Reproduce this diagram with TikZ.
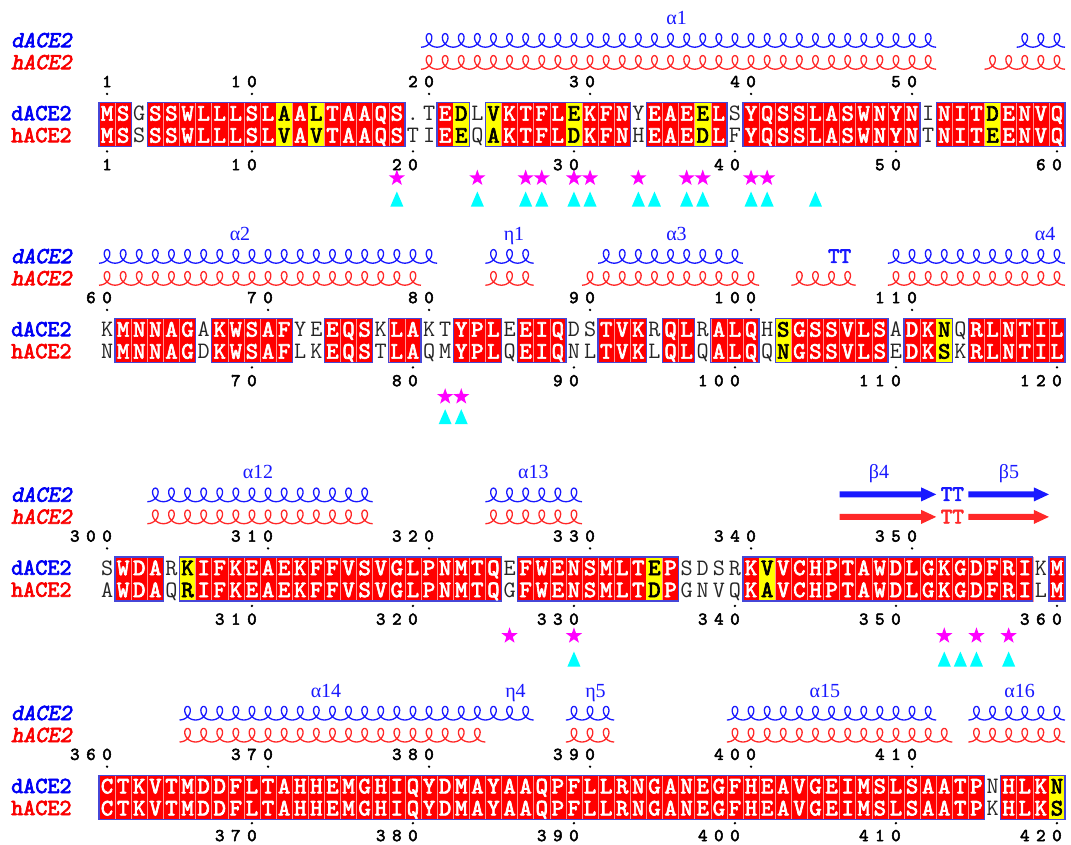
\documentclass[tikz,border=0pt]{standalone}
\usepackage{fontspec}
\setmainfont{Liberation Serif}
\newfontfamily\resbold[FakeBold=2.8]{lmmono10-regular.otf}
\newfontfamily\resboldsl[FakeBold=2.8,FakeSlant=0.2]{lmmono10-regular.otf}
\usetikzlibrary{shapes.geometric}

\definecolor{idred}{RGB}{255,0,0}
\definecolor{simyellow}{RGB}{255,255,0}
\definecolor{groupblue}{RGB}{70,70,215}
\definecolor{cellline}{RGB}{255,150,150}
\definecolor{dblue}{RGB}{0,0,245}
\definecolor{hred}{RGB}{250,0,0}
\definecolor{sblue}{RGB}{25,25,255}
\definecolor{sred}{RGB}{255,40,40}
\definecolor{contactmag}{RGB}{255,0,255}
\definecolor{contactcyan}{RGB}{0,255,255}

% ---- sequences and conservation classes, stored one character per column
\makeatletter
\newcount\seq@n
\def\storeseq#1#2{\global\seq@n=0 \def\seq@pfx{#1}\seq@next#2\relax}
\def\seq@next#1{\ifx#1\relax\else
  \global\advance\seq@n by 1
  \expandafter\gdef\csname\seq@pfx\the\seq@n\endcsname{#1}%
  \expandafter\seq@next\fi}
\makeatother

\storeseq{dA}{MSGSSWLLLS LAALTAAQS. TEDLVKTFLE KFNYEAEELS YQSSLASWNY NINITDENVQ}
\storeseq{hA}{MSSSSWLLLS LVAVTAAQST IEEQAKTFLD KFNHEAEDLF YQSSLASWNY NTNITEENVQ}
\storeseq{tA}{RRNRRRRRRR RYRYRRRRRN NRYNYRRRRY RRRNRRRYRN RRRRRRRRRR RNRRRYRRRR}
\storeseq{dB}{KMNNAGAKWS AFYEEQSKLA KTYPLEEIQD STVKRQLRAL QHSGSSVLSA DKNQRLNTIL}
\storeseq{hB}{NMNNAGDKWS AFLKEQSTLA QMYPLQEIQN LTVKLQLQAL QQNGSSVLSE DKSKRLNTIL}
\storeseq{tB}{NRRRRRNRRR RRNNRRRNRR NNRRRNRRRN NRRRNRRNRR RNYRRRRRRN RRYNRRRRRR}
\storeseq{dC}{SWDARKIFKE AEKFFVSVGL PNMTQEFWEN SMLTEPSDSR KVVCHPTAWD LGKGDFRIKM}
\storeseq{hC}{AWDAQRIFKE AEKFFVSVGL PNMTQGFWEN SMLTDPGNVQ KAVCHPTAWD LGKGDFRILM}
\storeseq{tC}{NRRRNYRRRR RRRRRRRRRR RRRRRNRRRR RRRRYRNNNN RYRRRRRRRR RRRRRRRRNR}
\storeseq{dD}{CTKVTMDDFL TAHHEMGHIQ YDMAYAAQPF LLRNGANEGF HEAVGEIMSL SAATPNHLKN}
\storeseq{hD}{CTKVTMDDFL TAHHEMGHIQ YDMAYAAQPF LLRNGANEGF HEAVGEIMSL SAATPKHLKS}
\storeseq{tD}{RRRRRRRRRR RRRRRRRRRR RRRRRRRRRR RRRRRRRRRR RRRRRRRRRR RRRRRNRRRY}

\newcommand\colzero{99}
\newcommand\colpitch{16.1}

\tikzset{
  resid/.style={inner sep=0pt, anchor=base, font=\ttfamily\fontsize{23.5}{23.5}\selectfont},
  residW/.style={resid, font=\resbold\fontsize{23.5}{23.5}\selectfont, text=white},
  residB/.style={resid, font=\resbold\fontsize{23.5}{23.5}\selectfont, text=black},
  residN/.style={resid, text=black!85},
  rowlabel/.style={inner sep=0pt, anchor=base west, font=\resbold\fontsize{23}{23}\selectfont},
  rowlabelit/.style={rowlabel, font=\resboldsl\fontsize{23}{23}\selectfont},
  numdigit/.style={inner sep=0pt, anchor=base, font=\resbold\fontsize{18}{18}\selectfont},
  sslab/.style={inner sep=0pt, anchor=base, text=sblue, font=\fontsize{20}{20}\selectfont},
  turnlab/.style={inner sep=0pt, anchor=base, font=\resbold\fontsize{22}{22}\selectfont},
  groupframe/.style={draw=groupblue, line width=1.3pt},
  helixline/.style={line width=1.3pt, line join=round},
  starmark/.style={star, star points=5, star point ratio=2.5, fill=contactmag, draw=none, inner sep=0pt, minimum size=17pt}
}

% residue boxes, group frames, letters and row names of one block
\newcommand\block[3]{%
  \foreach \i in {1,...,60}{
    \pgfmathsetmacro\xc{\colzero+(\i-0.5)*\colpitch}
    \if R\csname t#1\i\endcsname
      \filldraw[fill=idred, draw=cellline, line width=0.5pt] (\xc-\colpitch/2,#2) rectangle (\xc+\colpitch/2,#2+44);
    \fi
    \if Y\csname t#1\i\endcsname
      \fill[simyellow] (\xc-\colpitch/2,#2) rectangle (\xc+\colpitch/2,#2+44);
    \fi
  }
  \foreach \s/\e in {#3}{
    \draw[groupframe] ({\colzero+(\s-1)*\colpitch},#2) rectangle ({\colzero+\e*\colpitch},#2+44);
  }
  \foreach \i in {1,...,60}{
    \pgfmathsetmacro\xc{\colzero+(\i-0.5)*\colpitch}
    \if R\csname t#1\i\endcsname
      \node[residW] (d#1\i) at (\xc,#2+18.2) {\csname d#1\i\endcsname};
      \node[residW] (h#1\i) at (\xc,#2+40.2) {\csname h#1\i\endcsname};
    \else
      \if Y\csname t#1\i\endcsname
        \node[residB] (d#1\i) at (\xc,#2+18.2) {\csname d#1\i\endcsname};
        \node[residB] (h#1\i) at (\xc,#2+40.2) {\csname h#1\i\endcsname};
      \else
        \node[residN] (d#1\i) at (\xc,#2+18.2) {\csname d#1\i\endcsname};
        \node[residN] (h#1\i) at (\xc,#2+40.2) {\csname h#1\i\endcsname};
      \fi
    \fi
  }
  \node[rowlabel, text=dblue] (rowd#1) at (11,#2+17.8) {dACE2};
  \node[rowlabel, text=hred] (rowh#1) at (11,#2+39.8) {hACE2};
  \node[rowlabelit, text=dblue] (ssd#1) at (11,#2-62+6.8) {dACE2};
  \node[rowlabelit, text=hred] (ssh#1) at (11,#2-40+6.8) {hACE2};
}

% residue numbers: digits one per column, the last one over the numbered column
\newcommand\numbers[4]{%
  \foreach \c/\n in {#4}{
    \pgfmathtruncatemacro\numlen{\n<10 ? 1 : (\n<100 ? 2 : 3)}
    \pgfmathtruncatemacro\digcol{\c-\numlen+1}
    \def\digy{#2+5.4}\def\digtag{#1}
    \expandafter\digwalk\n\relax
    \fill ({\colzero+(\c-0.5)*\colpitch},#3) circle (1.3);
  }
}
\def\digwalk#1{\ifx#1\relax\else
  \node[numdigit] (\digtag-\digcol) at ({\colzero+(\digcol-0.5)*\colpitch},\digy) {#1};
  \pgfmathtruncatemacro\digcol{\digcol+1}%
  \expandafter\digwalk\fi}

% helix drawn as a coil, one turn per column
\newcommand\helix[4]{%
  \pgfmathsetmacro\hxl{\colzero+(#3-1)*\colpitch}
  \pgfmathtruncatemacro\hn{#4-#3+1}
  \pgfmathsetmacro\hst{-pi}
  \pgfmathsetmacro\hend{(2*\hn-1)*pi}
  \pgfmathtruncatemacro\hs{\hn*24+1}
  \draw[#1, helixline, domain=\hst:\hend, samples=\hs, variable=\ang]
    plot ({\hxl+\colpitch/(2*pi)*(\ang+pi)-6.3*sin(\ang r)}, {#2-6.8*cos(\ang r)});
}

% strand arrow
\newcommand\strand[4]{%
  \pgfmathsetmacro\sl{\colzero+(#3-1)*\colpitch}
  \pgfmathsetmacro\sr{\colzero+#4*\colpitch}
  \fill[#1] (\sl,#2-3) -- (\sr-15,#2-3) -- (\sr-15,#2-7) -- (\sr,#2) -- (\sr-15,#2+7) -- (\sr-15,#2+3) -- (\sl,#2+3) -- cycle;
}

% interface residues
\newcommand\stars[3]{%
  \foreach \c in {#3}{\node[starmark] (#1star\c) at ({\colzero+(\c-0.5)*\colpitch},#2) {};}
}
\newcommand\tris[2]{%
  \foreach \c in {#2}{
    \pgfmathsetmacro\tx{\colzero+(\c-0.5)*\colpitch}
    \fill[contactcyan] (\tx-6.5,#1+7.5) -- (\tx,#1-7.5) -- (\tx+6.5,#1+7.5) -- cycle;
  }
}

\begin{document}
\begin{tikzpicture}[x=1pt,y=-1pt]
\fill[white] (0,0) rectangle (1071,844);
\useasboundingbox (0,0) rectangle (1071,844);

% ---------------- residues 1-60
\def\by{102.4}
\helix{sblue}{\by-62}{21}{52}
\helix{sblue}{\by-62}{58}{60}
\helix{sred}{\by-40}{21}{52}
\helix{sred}{\by-40}{56}{60}
\node[sslab] (a1) at (676.6,\by-85+7) {α1};
\numbers{At}{\by-20.7}{\by-8.5}{1/1,10/10,21/20,31/30,41/40,51/50}
\block{A}{\by}{1/2,4/19,22/23,25/33,35/39,41/51,53/60}
\numbers{Ab}{\by+62.4}{\by+49}{1/1,10/10,20/20,30/30,40/40,50/50,60/60}
\stars{A}{178}{19,24,27,28,30,31,34,37,38,41,42}
\tris{199}{19,24,27,28,30,31,34,35,37,38,41,42,45}

% ---------------- residues 61-120
\def\by{318.4}
\helix{sblue}{\by-62}{1}{21}
\helix{sblue}{\by-62}{25}{27}
\helix{sblue}{\by-62}{32}{40}
\helix{sblue}{\by-62}{50}{60}
\helix{sred}{\by-40}{1}{20}
\helix{sred}{\by-40}{25}{27}
\helix{sred}{\by-40}{31}{41}
\helix{sred}{\by-40}{44}{47}
\helix{sred}{\by-40}{50}{60}
\node[sslab] (a2) at (240,\by-85+7) {α2};
\node[sslab] (e1) at (514,\by-85+7) {η1};
\node[sslab] (a3) at (676.5,\by-85+7) {α3};
\node[sslab] (a4) at (1045,\by-85+7) {α4};
\node[turnlab, text=sblue] (tt1) at (839.6,\by-62+6.5) {TT};
\numbers{Bt}{\by-20.7}{\by-8.5}{1/60,11/70,21/80,31/90,41/100,51/110}
\block{B}{\by}{2/6,8/12,15/17,19/20,23/25,27/29,32/34,36/37,39/41,43/49,51/53,55/60}
\numbers{Bb}{\by+62.4}{\by+49}{10/70,20/80,30/90,40/100,50/110,60/120}
\stars{B}{396.7}{22,23}
\tris{416.7}{22,23}

% ---------------- residues 301-360
\def\by{556.9}
\helix{sblue}{\by-62}{4}{17}
\helix{sblue}{\by-62}{25}{30}
\helix{sred}{\by-40}{4}{17}
\helix{sred}{\by-40}{25}{30}
\strand{sblue}{\by-62.5}{47}{52}
\strand{sblue}{\by-62.5}{55}{59}
\strand{sred}{\by-40}{47}{52}
\strand{sred}{\by-40}{55}{59}
\node[turnlab, text=sblue] (tt2) at (952.3,\by-62.5+6.5) {TT};
\node[turnlab, text=sred] (tt3) at (952.3,\by-40+6.5) {TT};
\node[sslab] (a12) at (258,\by-85+7) {α12};
\node[sslab] (a13) at (533.4,\by-85+7) {α13};
\node[sslab] (b4) at (879,\by-85+7) {β4};
\node[sslab] (b5) at (1009,\by-85+7) {β5};
\numbers{Ct}{\by-20.7}{\by-8.5}{1/300,11/310,21/320,31/330,41/340,51/350}
\block{C}{\by}{2/4,6/25,27/36,41/58,60/60}
\numbers{Cb}{\by+62.4}{\by+49}{10/310,20/320,30/330,40/340,50/350,60/360}
\stars{C}{635.8}{26,30,53,55,57}
\tris{659}{30,53,54,55,57}

% ---------------- residues 361-420
\def\by{775.2}
\helix{sblue}{\by-62}{6}{27}
\helix{sblue}{\by-62}{30}{32}
\helix{sblue}{\by-62}{40}{52}
\helix{sblue}{\by-62}{55}{60}
\helix{sred}{\by-40}{6}{24}
\helix{sred}{\by-40}{30}{32}
\helix{sred}{\by-40}{40}{53}
\helix{sred}{\by-40}{55}{60}
\node[sslab] (a14) at (326,\by-85+7) {α14};
\node[sslab] (e4) at (515.5,\by-85+7) {η4};
\node[sslab] (e5) at (595.5,\by-85+7) {η5};
\node[sslab] (a15) at (824.8,\by-85+7) {α15};
\node[sslab] (a16) at (1019.7,\by-85+7) {α16};
\numbers{Dt}{\by-20.7}{\by-8.5}{1/360,11/370,21/380,31/390,41/400,51/410}
\block{D}{\by}{1/55,57/60}
\numbers{Db}{\by+60.5}{\by+48}{10/370,20/380,30/390,40/400,50/410,60/420}
\end{tikzpicture}
\end{document}
